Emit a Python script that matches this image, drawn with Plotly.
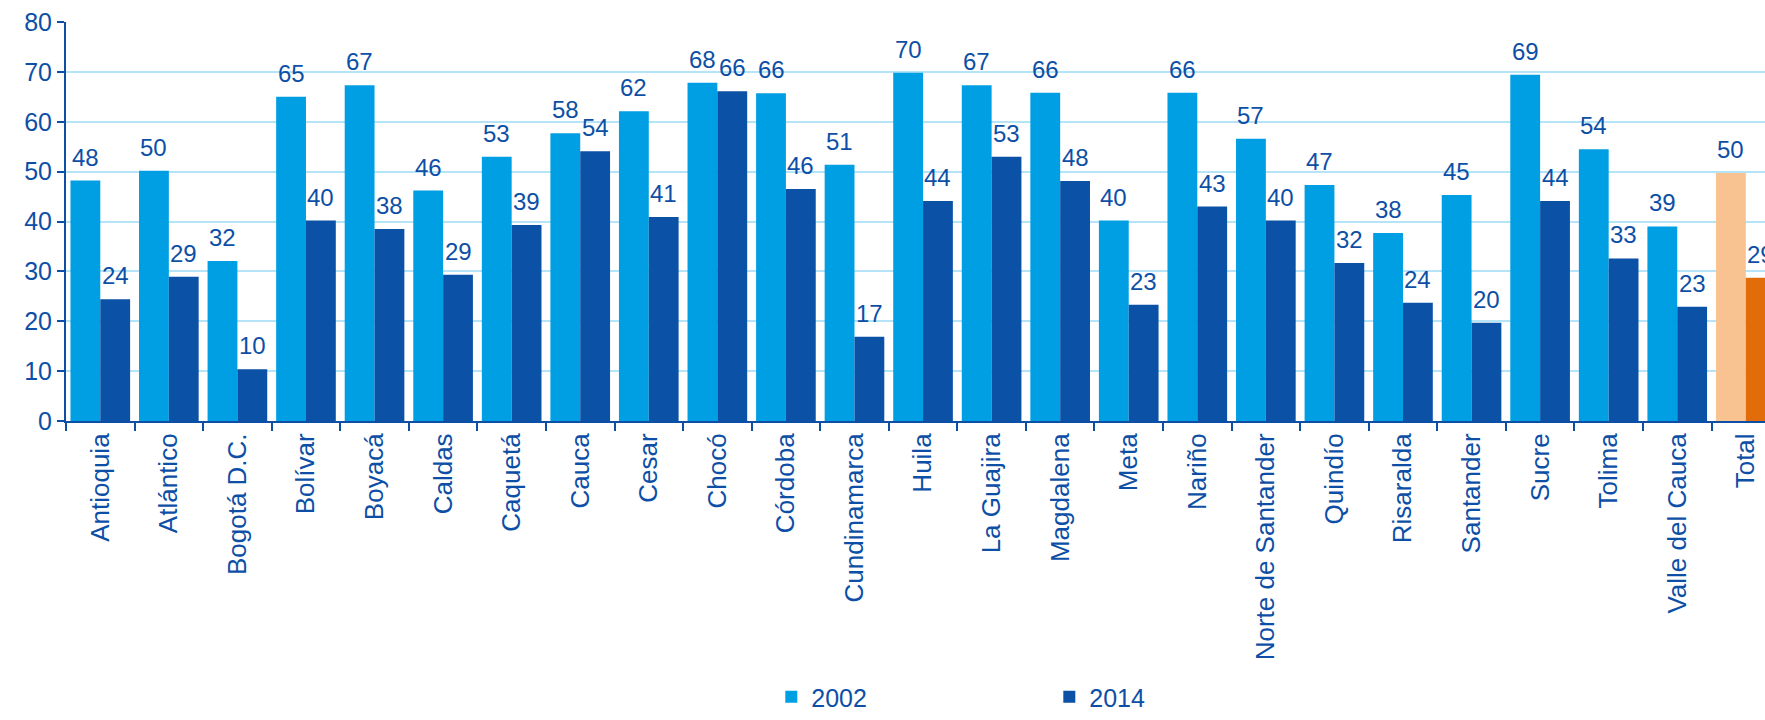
import plotly.graph_objects as go

categories = ["Antioquia", "Atlántico", "Bogotá D.C.", "Bolívar", "Boyacá", "Caldas", "Caquetá",
              "Cauca", "Cesar", "Chocó", "Córdoba", "Cundinamarca", "Huila", "La Guajira",
              "Magdalena", "Meta", "Nariño", "Norte de Santander", "Quindío", "Risaralda",
              "Santander", "Sucre", "Tolima", "Valle del Cauca", "Total"]
values_2002 = [48.2, 50.2, 32.1, 65.0, 67.3, 46.2, 53.0, 57.7, 62.1, 67.8, 65.7, 51.4, 69.8, 67.3,
               65.8, 40.2, 65.8, 56.6, 47.3, 37.7, 45.3, 69.4, 54.5, 39.0, 49.7]
values_2014 = [24.4, 28.9, 10.4, 40.2, 38.5, 29.3, 39.3, 54.1, 40.9, 66.1, 46.5, 16.9, 44.1, 53.0,
               48.1, 23.3, 43.0, 40.2, 31.7, 23.7, 19.7, 44.1, 32.6, 22.9, 28.7]
y_ticks = [0, 10, 20, 30, 40, 50, 60, 70, 80]

C2002 = "#009FE3"
C2014 = "#0B51A5"
C2002_TOTAL = "#F8C291"
C2014_TOTAL = "#E36C0A"
TEXT = "#0D4FA6"
FONT = "Liberation Sans, Arial, sans-serif"

colors_2002 = [C2002] * (len(categories) - 1) + [C2002_TOTAL]
colors_2014 = [C2014] * (len(categories) - 1) + [C2014_TOTAL]

fig = go.Figure()
fig.add_trace(go.Bar(name="2002", x=categories, y=values_2002,
                     marker=dict(color=colors_2002, line=dict(width=0))))
fig.add_trace(go.Bar(name="2014", x=categories, y=values_2014,
                     marker=dict(color=colors_2014, line=dict(width=0))))

annotations = []
half = 14.9
for c, v in zip(categories, values_2002):
    annotations.append(dict(x=c, y=v, text=f"{v:.0f}", showarrow=False, xshift=-half, yshift=8,
                            yanchor="bottom", xanchor="center",
                            font=dict(size=24, color=TEXT, family=FONT)))
for c, v in zip(categories, values_2014):
    annotations.append(dict(x=c, y=v, text=f"{v:.0f}", showarrow=False, xshift=half, yshift=8,
                            yanchor="bottom", xanchor="center",
                            font=dict(size=24, color=TEXT, family=FONT)))

fig.update_layout(
    width=1765, height=720,
    margin=dict(l=66, r=0, t=22, b=299),
    barmode="group", bargap=0.13, bargroupgap=0,
    plot_bgcolor="white", paper_bgcolor="white",
    font=dict(family=FONT, color=TEXT, size=24),
    annotations=annotations,
    showlegend=True,
    legend=dict(orientation="h", xref="container", yref="container",
                x=0.437, y=0.0, xanchor="left", yanchor="bottom",
                entrywidth=233, font=dict(size=25, color=TEXT, family=FONT),
                bgcolor="rgba(0,0,0,0)"),
)
fig.update_xaxes(
    type="category", range=[-0.5, 24.28],
    showline=True, linecolor=TEXT, linewidth=2,
    ticks="outside", tickson="boundaries", ticklen=8, tickwidth=2, tickcolor=TEXT,
    tickangle=-90, tickfont=dict(size=26, color=TEXT, family=FONT),
    showgrid=False,
)
fig.update_yaxes(
    range=[0, 80], tickvals=y_ticks,
    showline=True, linecolor=TEXT, linewidth=2,
    ticks="outside", ticklen=7, tickwidth=2, tickcolor=TEXT,
    tickfont=dict(size=25, color=TEXT, family=FONT),
    showgrid=True, gridcolor="#B5E3F7", gridwidth=2,
    zeroline=False,
)

fig.write_html("out.html")
